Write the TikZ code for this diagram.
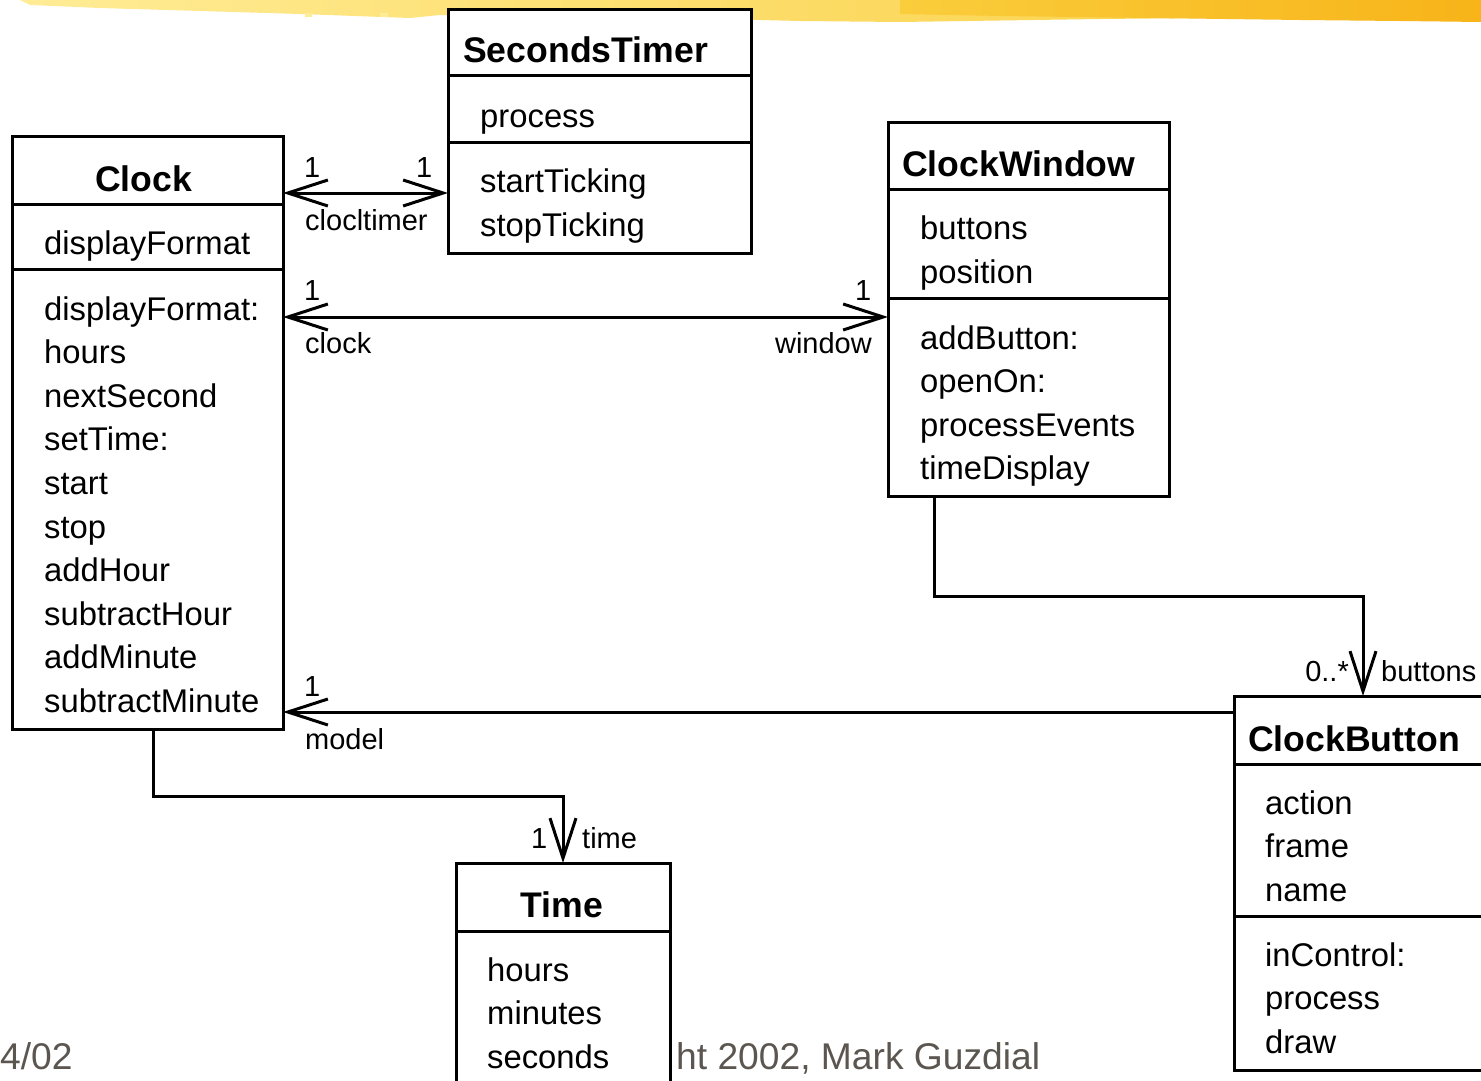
\documentclass[tikz,border=0pt]{standalone}
\usepackage{fontspec}
\setmainfont{Liberation Sans}
\usetikzlibrary{arrows.meta}
\definecolor{brushA}{RGB}{255,236,150}
\definecolor{brushB}{RGB}{250,205,60}
\definecolor{brushC}{RGB}{248,180,25}
\definecolor{footgray}{RGB}{92,86,80}
\tikzset{
  umlbox/.style={draw, line width=3pt, fill=white, inner sep=0pt, outer sep=0pt, anchor=north west},
  divider/.style={line width=3pt},
  ttl/.style={font=\fontsize{35.6}{40}\selectfont\bfseries, inner sep=0pt},
  txt/.style={font=\fontsize{32.8}{40}\selectfont, inner sep=0pt, anchor=base west},
  lbl/.style={font=\fontsize{29}{34}\selectfont, inner sep=0pt},
  foot/.style={font=\fontsize{37.2}{42}\selectfont, text=footgray, inner sep=0pt, anchor=base west},
  assoc/.style={line width=3pt},
  >={Straight Barb[length=40pt,width=26pt,line width=3pt]}
}
\begin{document}
\begin{tikzpicture}[x=1pt,y=-1pt]
\useasboundingbox (0,0) rectangle (1481,1081);
\clip (0,0) rectangle (1481,1081);
\fill[white] (0,0) rectangle (1481,1081);
% brush stroke
\shade[left color=brushA, right color=brushB]
  (20,0) -- (1481,0) -- (1481,18) -- (1300,17) -- (1100,19) -- (900,22) -- (800,21)
  -- (600,16) -- (440,15) -- (410,18) -- (300,14) -- (200,11) -- (100,8) -- (30,5) -- cycle;
\shade[left color=brushB, right color=brushC]
  (900,0) -- (1481,0) -- (1481,22) -- (1400,21) -- (1300,20) -- (1150,18) -- (1000,16) -- (900,14) -- cycle;
\fill[brushA] (305,13) rectangle (312,17);
\fill[brushA] (380,13) rectangle (388,17);

% boxes
\node[umlbox, minimum width=303pt, minimum height=243pt] (st) at (448,10) {};
\node[umlbox, minimum width=271pt, minimum height=593pt] (clock) at (12,136) {};
\node[umlbox, minimum width=281pt, minimum height=374pt] (cw) at (888,122) {};
\node[umlbox, minimum width=258pt, minimum height=374pt] (cb) at (1234,696) {};
\node[umlbox, minimum width=214pt, minimum height=250pt] (time) at (456,863) {};

% dividers
\draw[divider] (st.west |- 0,76) -- (st.east |- 0,76);
\draw[divider] (st.west |- 0,142) -- (st.east |- 0,142);
\draw[divider] (clock.west |- 0,204) -- (clock.east |- 0,204);
\draw[divider] (clock.west |- 0,269) -- (clock.east |- 0,269);
\draw[divider] (cw.west |- 0,189) -- (cw.east |- 0,189);
\draw[divider] (cw.west |- 0,298) -- (cw.east |- 0,298);
\draw[divider] (cb.west |- 0,764) -- (cb.east |- 0,764);
\draw[divider] (cb.west |- 0,916) -- (cb.east |- 0,916);
\draw[divider] (time.west |- 0,931) -- (time.east |- 0,931);

% titles
\node[ttl, anchor=base west] (stT) at (463,63) {SecondsTimer};
\node[ttl, anchor=base] (clockT) at (143.5,191) {Clock};
\node[ttl, anchor=base west] (cwT) at (902,176) {ClockWindow};
\node[ttl, anchor=base west] (cbT) at (1248,751) {ClockButton};
\node[ttl, anchor=base] (timeT) at (562,917) {Time};

% SecondsTimer texts
\node[txt] (st1) at (480,128) {process};
\node[txt] (st2) at (480,192) {startTicking};
\node[txt] (st3) at (480,236) {stopTicking};

% Clock texts
\node[txt] (ck0) at (44,254) {displayFormat};
\foreach \t/\y [count=\i] in {displayFormat:/320, hours/363.6, nextSecond/407.2, setTime:/450.8, start/494.4, stop/538, addHour/581.6, subtractHour/625.2, addMinute/668.8, subtractMinute/712.4}
  \node[txt] (ck\i) at (44,\y) {\t};

% ClockWindow texts
\foreach \t/\y [count=\i] in {buttons/239, position/283, addButton:/349, openOn:/392.6, processEvents/436.2, timeDisplay/479.8}
  \node[txt] (cw\i) at (920,\y) {\t};

% ClockButton texts
\foreach \t/\y [count=\i] in {action/814, frame/857.6, name/901.2, inControl:/966, process/1009.6, draw/1053.2}
  \node[txt] (cb\i) at (1265,\y) {\t};

% Time texts
\foreach \t/\y [count=\i] in {hours/981, minutes/1024.6, seconds/1068.2}
  \node[txt] (tm\i) at (487,\y) {\t};

% connectors
\coordinate (c1) at (0,193);
\draw[assoc, <->] (c1 -| clock.east) -- (c1 -| st.west);
\coordinate (c2) at (0,317);
\draw[assoc, <->] (c2 -| clock.east) -- (c2 -| cw.west);
\coordinate (c3) at (934,596);
\draw[assoc, ->] (c3 |- cw.south) -- (c3) -- (c3 -| cb.north) -- (cb.north);
\coordinate (c4) at (0,712);
\draw[assoc, ->] (c4 -| cb.west) -- (c4 -| clock.east);
\coordinate (c5) at (153,796);
\draw[assoc, ->] (c5 |- clock.south) -- (c5) -- (c5 -| time.north) -- (time.north);

% connector labels
\node[lbl, anchor=base west] (l1) at (304,177) {1};
\node[lbl, anchor=base west] (l2) at (416,177) {1};
\node[lbl, anchor=base west] (l3) at (305,230) {clocltimer};
\node[lbl, anchor=base west] (l4) at (304,300) {1};
\node[lbl, anchor=base west] (l5) at (855,300) {1};
\node[lbl, anchor=base west] (l6) at (305,353) {clock};
\node[lbl, anchor=base east] (l7) at (872,353) {window};
\node[lbl, anchor=base west] (l8) at (304,696) {1};
\node[lbl, anchor=base west] (l9) at (305,749) {model};
\node[lbl, anchor=base west] (l10) at (531,848) {1};
\node[lbl, anchor=base west] (l11) at (582,848) {time};
\node[lbl, anchor=base east] (l12) at (1349,681) {0..*};
\node[lbl, anchor=base west] (l13) at (1381,681) {buttons};

% footer
\node[foot] (f1) at (0,1069) {4/02};
\node[foot] (f2) at (676,1069) {ht 2002, Mark Guzdial};
\end{tikzpicture}
\end{document}
